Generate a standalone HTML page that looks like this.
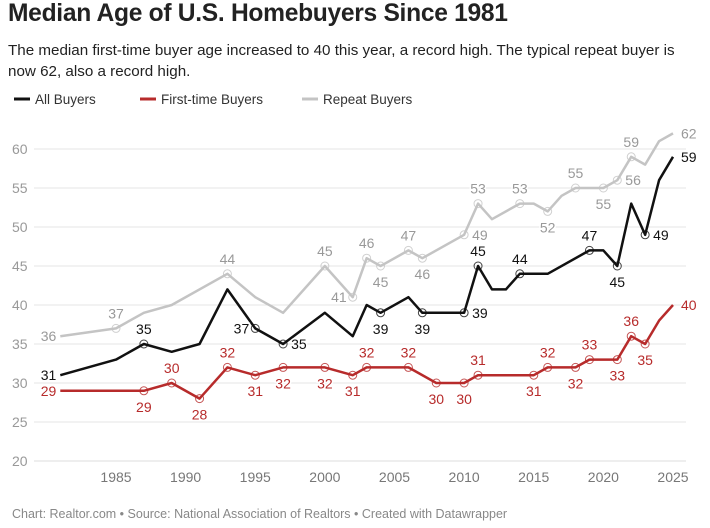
<!DOCTYPE html>
<html><head><meta charset="utf-8">
<style>
body{margin:0;background:#fff;font-family:"Liberation Sans",sans-serif;}
#wrap{position:relative;width:710px;height:528px;overflow:hidden;}
h1{position:absolute;left:8px;top:0px;margin:0;font-size:24.6px;font-weight:bold;color:#222;letter-spacing:-0.3px;}
.sub{position:absolute;left:8px;top:40px;width:680px;font-size:15.2px;line-height:21px;color:#222;margin:0;}
.foot{position:absolute;left:12px;top:507px;font-size:12.5px;color:#888;}
svg{position:absolute;left:0;top:0;}
</style></head><body>
<div id="wrap">
<h1>Median Age of U.S. Homebuyers Since 1981</h1>
<p class="sub">The median first-time buyer age increased to 40 this year, a record high. The typical repeat buyer is now 62, also a record high.</p>
<svg id="chart" width="710" height="528"></svg>
<div class="foot">Chart: Realtor.com • Source: National Association of Realtors • Created with Datawrapper</div>
</div>
<script>
const allYears=[1981,1985,1987,1989,1991,1993,1995,1997,2000,2002,2003,2004,2006,2007,2010,2011,2012,2013,2014,2016,2019,2020,2021,2022,2023,2024,2025];
const allValues=[31,33,35,34,35,42,37,35,39,36,40,39,41,39,39,45,42,42,44,44,47,47,45,53,49,56,59];
const allLabels={1981:'l',1987:'a',1995:'l',1997:'r',2004:'b',2007:'b',2010:'r',2011:'a',2014:'a',2019:'a',2021:'b',2023:'r',2025:'r'};
const firstYears=[1981,1985,1987,1989,1991,1993,1995,1997,2000,2002,2003,2006,2008,2010,2011,2015,2016,2018,2019,2021,2022,2023,2024,2025];
const firstValues=[29,29,29,30,28,32,31,32,32,31,32,32,30,30,31,31,32,32,33,33,36,35,38,40];
const firstLabels={1981:'l',1987:'b',1989:'a',1991:'b',1993:'a',1995:'b',1997:'b',2000:'b',2002:'b',2003:'a',2006:'a',2008:'b',2010:'b',2011:'a',2015:'b',2016:'a',2018:'b',2019:'a',2021:'b',2022:'a',2023:'b',2025:'r'};
const repYears=[1981,1985,1987,1989,1993,1995,1997,2000,2002,2003,2004,2006,2007,2010,2011,2012,2014,2015,2016,2017,2018,2020,2021,2022,2023,2024,2025];
const repValues=[36,37,39,40,44,41,39,45,41,46,45,47,46,49,53,51,53,53,52,54,55,55,56,59,58,61,62];
const repLabels={1981:'l',1985:'a',1993:'a',2000:'a',2002:'l',2003:'a',2004:'b',2006:'a',2007:'b',2010:'r',2011:'a',2014:'a',2016:'b',2018:'a',2020:'b',2021:'r',2022:'a',2025:'r'};
const yTicks=[20,25,30,35,40,45,50,55,60];
const xTicks=[1985,1990,1995,2000,2005,2010,2015,2020,2025];
const NS='http://www.w3.org/2000/svg';
const svg=document.getElementById('chart');
const X=y=>116+(y-1985)*13.925;
const Y=v=>461-(v-20)*7.8;
function el(t,a,p){const e=document.createElementNS(NS,t);for(const k in a)e.setAttribute(k,a[k]);(p||svg).appendChild(e);return e;}
yTicks.forEach(t=>{
 const l=el('line',{x1:34,x2:686,y1:Y(t),y2:Y(t),stroke:t===20?'#ddd':'#e6e6e6','stroke-width':1});
 
 
 const tx=el('text',{x:12,y:Y(t)+5,'font-size':14,fill:'#999'});tx.textContent=t;
 
 
});
xTicks.forEach(t=>{
 const tx=el('text',{x:X(t),y:482,'font-size':14,fill:'#777','text-anchor':'middle'});tx.textContent=t;
 
 
});
const leg=[['All Buyers','#111',14],['First-time Buyers','#b72b2b',140],['Repeat Buyers','#c4c4c4',302]];
leg.forEach(([n,c,x])=>{
 const g=el('g',{});
 
 
 el('line',{x1:x,x2:x+16,y1:99,y2:99,stroke:c,'stroke-width':3},g);
 const t=el('text',{x:x+21,y:104,'font-size':13.5,fill:'#333'},g);t.textContent=n;
});
function series(ys,vs,labs,color,tcolor,name){
 const g=el('g',{});
 
 
 const p=el('polyline',{points:ys.map((y,i)=>X(y)+','+Y(vs[i])).join(' '),fill:'none',stroke:color,'stroke-width':2.5,'stroke-linejoin':'round'},g);
 
 
 ys.forEach((y,i)=>{
  const pos=labs[y];if(!pos)return;
  const cx=X(y),cy=Y(vs[i]);
  if(y!==1981&&y!==2025){
   const c=el('circle',{cx:cx,cy:cy,r:4,fill:'none',stroke:color,'stroke-width':1,opacity:0.8},g);
   
   
  }
  let tx=cx,ty=cy+5,anc='middle';
  if(pos==='a')ty=cy-10;else if(pos==='b')ty=cy+21;else if(pos==='r'){tx=cx+8;anc='start';}else if(pos==='l'){tx=cx-6;anc='end';}
  if(y===1981&&pos==='l'){tx=cx-4;}
  const t=el('text',{x:tx,y:ty,'font-size':14,fill:tcolor,'text-anchor':anc,stroke:'#fff','stroke-width':3,'paint-order':'stroke'},g);
  t.textContent=vs[i];
  
  
 });
}
series(repYears,repValues,repLabels,'#c4c4c4','#999','repeat-buyers');
series(allYears,allValues,allLabels,'#111','#111','all-buyers');
series(firstYears,firstValues,firstLabels,'#b72b2b','#b72b2b','first-time-buyers');
</script>
</body></html>
